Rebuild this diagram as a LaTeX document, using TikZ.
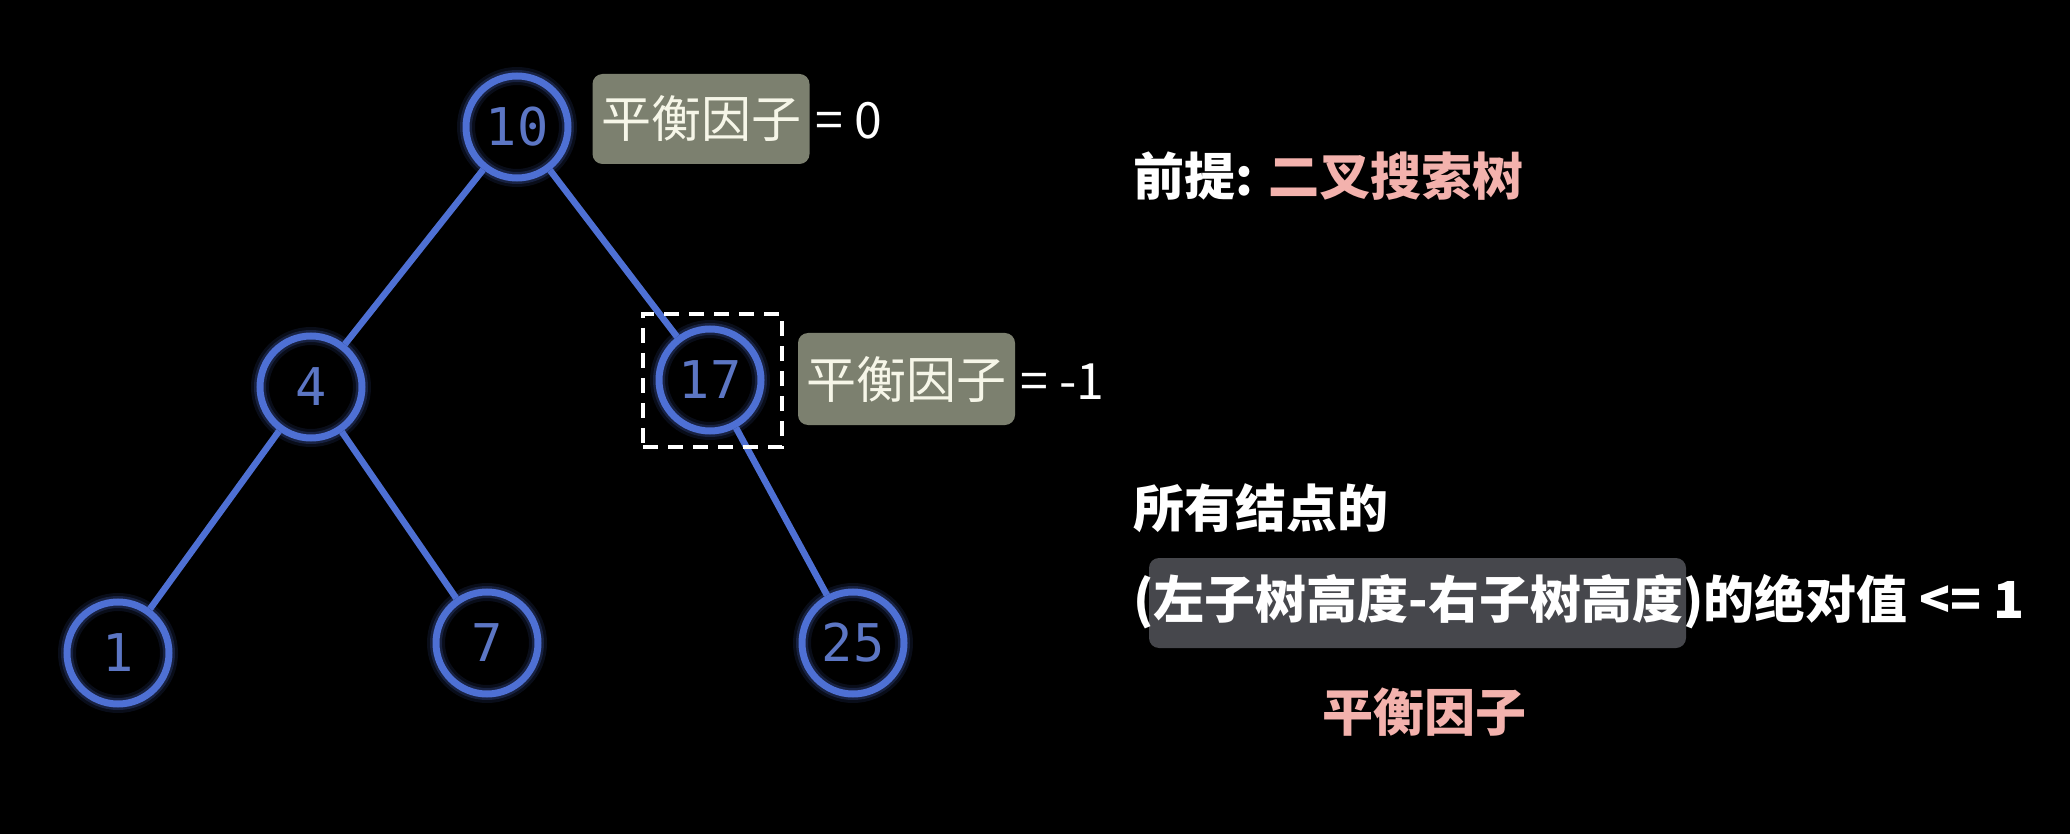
\documentclass[tikz,border=0pt]{standalone}
\usepackage{fontspec}
\newfontfamily\cjk{Noto Sans CJK SC}
\newfontfamily\mono{DejaVu Sans Mono}
\definecolor{nodeblue}{RGB}{78,112,212}
\definecolor{numblue}{RGB}{92,118,196}
\definecolor{bfgray}{RGB}{124,128,111}
\definecolor{darkbox}{RGB}{70,71,76}
\definecolor{cream}{RGB}{246,246,232}
\definecolor{pinktxt}{RGB}{243,178,173}
\begin{document}
\begin{tikzpicture}[x=1pt,y=-1pt,
  treenode/.style={circle,minimum size=102pt,inner sep=0pt,draw=nodeblue,line width=7pt,
    font=\mono\fontsize{52}{52}\selectfont,text=numblue,
    preaction={draw=nodeblue,line width=18pt,draw opacity=0.12},
    preaction={draw=nodeblue,line width=12pt,draw opacity=0.22}},
  edge/.style={draw=nodeblue,line width=6.5pt},
  bfbox/.style={fill=bfgray,rounded corners=10pt,text=cream,font=\cjk\fontsize{50}{50}\selectfont,
    minimum width=217pt,minimum height=90pt,inner sep=0pt},
  eqtext/.style={anchor=west,text=white,font=\cjk\fontsize{50}{50}\selectfont,inner sep=0pt},
  rtext/.style={anchor=west,text=white,font=\cjk\bfseries\fontsize{51}{51}\selectfont,inner sep=0pt},
  selbox/.style={draw=white,line width=3.5pt,dash pattern=on 15pt off 10pt,minimum width=139pt,minimum height=133pt,inner sep=0pt}
]
\fill[black] (0,0) rectangle (2070,834);
\useasboundingbox (0,0) rectangle (2070,834);

% tree nodes
\node[treenode] (n10) at (517,127) {10};
\node[treenode] (n4) at (311,387) {4};
\node[treenode] (n17) at (710,380) {17};
\node[treenode] (n1) at (118,653) {1};
\node[treenode] (n7) at (487,643) {7};
\node[treenode] (n25) at (853,643) {25};

% edges
\draw[edge] (n10) -- (n4);
\draw[edge] (n10) -- (n17);
\draw[edge] (n4) -- (n1);
\draw[edge] (n4) -- (n7);
\draw[edge] (n17) -- (n25);

% selection box
\node[selbox] (sel) at (712.5,380.5) {};

% balance factor labels
\node[bfbox] (bf1) at (701,119) {平衡因子};
\node[eqtext] (eq1) at (815,121) {= 0};
\node[bfbox,minimum height=92pt] (bf2) at (906.5,379) {平衡因子};
\node[eqtext] (eq2) at (1020,382) {= -1};

% right text
\node[rtext] (t1) at (1133,176) {前提: {\color{pinktxt}二叉搜索树}};
\node[rtext] (t2) at (1133,508) {所有结点的};
\node[fill=darkbox,rounded corners=10pt,minimum width=537pt,minimum height=90pt,inner sep=0pt] (hl) at (1417.5,603) {};
\node[rtext] (t3) at (1133,602) {(左子树高度-右子树高度)的绝对值 <= 1};
\node[rtext,anchor=center,text=pinktxt] (t4) at (1424,712) {平衡因子};
\end{tikzpicture}
\end{document}
